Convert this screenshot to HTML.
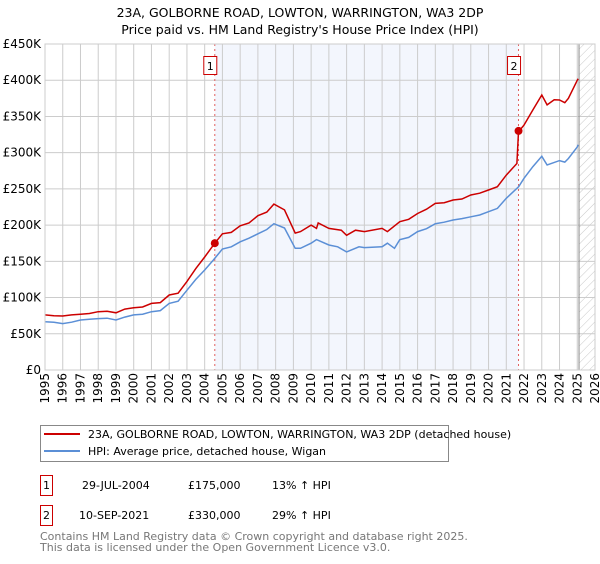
<!DOCTYPE html>
<html><head><meta charset="utf-8"><style>
body{margin:0;background:#fff;font-family:"DejaVu Sans","Liberation Sans",sans-serif;}
svg text{font-family:"DejaVu Sans","Liberation Sans",sans-serif;}
</style></head><body>
<svg id="c" width="600" height="560" xmlns="http://www.w3.org/2000/svg">
<defs><pattern id="hatch" width="6" height="6" patternUnits="userSpaceOnUse" patternTransform="rotate(45)"><line x1="0" y1="0" x2="0" y2="6" stroke="#bbb" stroke-width="0.8"/></pattern></defs>
<text x="300" y="17" text-anchor="middle" font-size="12.5">23A, GOLBORNE ROAD, LOWTON, WARRINGTON, WA3 2DP</text>
<text x="300" y="34" text-anchor="middle" font-size="12.5">Price paid vs. HM Land Registry's House Price Index (HPI)</text>
<g id="plot"></g>
<g>
<rect x="40.5" y="425.5" width="408" height="36" fill="#fff" stroke="#888"/>
<line x1="44" y1="434" x2="80" y2="434" stroke="#cc0000" stroke-width="2"/>
<text x="88" y="438" font-size="11">23A, GOLBORNE ROAD, LOWTON, WARRINGTON, WA3 2DP (detached house)</text>
<line x1="44" y1="451" x2="80" y2="451" stroke="#5b8fd6" stroke-width="2"/>
<text x="88" y="455" font-size="11">HPI: Average price, detached house, Wigan</text>
</g>
<g font-size="11">
<rect x="40.5" y="475.5" width="12" height="20" fill="#fff" stroke="#cc0000"/>
<text x="46.5" y="489" text-anchor="middle">1</text>
<text x="82" y="489">29-JUL-2004</text><text x="188" y="489">£175,000</text><text x="272" y="489">13% ↑ HPI</text>
<rect x="40.5" y="505.5" width="12" height="20" fill="#fff" stroke="#cc0000"/>
<text x="46.5" y="519" text-anchor="middle">2</text>
<text x="79" y="519">10-SEP-2021</text><text x="188" y="519">£330,000</text><text x="272" y="519">29% ↑ HPI</text>
</g>
<text x="40" y="540" font-size="11" fill="#777">Contains HM Land Registry data © Crown copyright and database right 2025.</text>
<text x="40" y="551" font-size="11" fill="#777">This data is licensed under the Open Government Licence v3.0.</text>
</svg>
<script>
const hpiYears=[1995,1995.5,1996,1996.5,1997,1997.5,1998,1998.5,1999,1999.5,2000,2000.5,2001,2001.5,2002,2002.5,2003,2003.5,2004,2004.5,2005,2005.5,2006,2006.5,2007,2007.5,2007.9,2008.5,2009.1,2009.4,2010,2010.3,2011,2011.5,2012,2012.7,2013,2014,2014.3,2014.7,2015,2015.5,2016,2016.5,2017,2017.5,2018,2018.5,2019,2019.5,2020,2020.5,2021,2021.7,2022,2022.5,2023,2023.3,2024,2024.3,2024.5,2025,2025.05];
const hpiValues=[66.7,66,64,66,69,70,71,71.5,69,73,76,77,80.5,82,92,95,110,125,138,152,167,170,177,182,188,194,202,196,168,168,175,180,172.5,170,163,170,169,170,175,168,180,183,191,195,202,204,207,209,211.5,214,218.5,223,237,253,264.6,280.7,295,283,289,287,292,308,311];
const ppYears=[1995,1995.5,1996,1996.5,1997,1997.5,1998,1998.5,1999,1999.5,2000,2000.5,2001,2001.5,2002,2002.5,2003,2003.5,2004,2004.57,2005,2005.5,2006,2006.5,2007,2007.5,2007.9,2008.5,2009.1,2009.4,2010,2010.3,2010.4,2011,2011.7,2012,2012.5,2013,2014,2014.3,2015,2015.5,2016,2016.5,2017,2017.5,2018,2018.5,2019,2019.5,2020,2020.5,2021,2021.6,2021.69,2022,2022.5,2023,2023.3,2023.7,2024,2024.3,2024.5,2025,2025.05];
const ppValues=[76,75,74.5,76,77,78,80.5,81,79,84,86,87,92,93,103.5,106,122,140,156,175,188,190,199,203,213,218,229,221,189,191,200,195.5,203,195.5,193,186,193,191,195.5,191,204.7,208,216,222,230,231,234.6,236,241.6,244,248.5,253,269,285,329,338,359,379.6,366,373,372.7,369,375,400,402];
const saleYears=[2004.57,2021.69];
const saleValues=[175,330];
const saleLabels=["1","2"];
const yTicks=[0,50,100,150,200,250,300,350,400,450];
const yTickLabels=["£0","£50K","£100K","£150K","£200K","£250K","£300K","£350K","£400K","£450K"];
const xTicks=[];for(let y=1995;y<=2026;y++)xTicks.push(y);

const L=45,R=595,T=44,B=370,ns="http://www.w3.org/2000/svg";
const X=y=>L+(y-1995)/(2026-1995)*(R-L);
const Y=v=>B-v/450*(B-T);
const g=document.getElementById('plot');
function mk(t,a){const e=document.createElementNS(ns,t);for(const k in a)e.setAttribute(k,a[k]);g.appendChild(e);return e;}
let e=mk('rect',{x:X(saleYears[0]),y:T,width:X(saleYears[1])-X(saleYears[0]),height:B-T,fill:'#eef2fc',opacity:0.7});


e=mk('rect',{x:X(2025.1),y:T,width:R-X(2025.1),height:B-T,fill:'url(#hatch)'});


yTicks.forEach((v,i)=>{
 let l=mk('line',{x1:L,x2:R,y1:Y(v),y2:Y(v),stroke:'#ccc','stroke-width':1});
 
 
 let t=mk('text',{x:L-4,y:Y(v)+4,'text-anchor':'end','font-size':12});
 t.textContent=yTickLabels[i];
 
 
});
xTicks.forEach(yr=>{
 let l=mk('line',{x1:X(yr),x2:X(yr),y1:T,y2:B,stroke:'#ccc','stroke-width':1});
 
 
 let t=mk('text',{x:0,y:0,'text-anchor':'end','font-size':12,transform:`translate(${X(yr)+4},${B+3}) rotate(-90)`});
 t.textContent=yr;
 
 
});
e=mk('line',{x1:X(2025.1),x2:X(2025.1),y1:T,y2:B,stroke:'#888','stroke-width':1});


saleYears.forEach((yr,i)=>{
 let l=mk('line',{x1:X(yr),x2:X(yr),y1:T,y2:B,stroke:'#e06060','stroke-width':1,'stroke-dasharray':'2,3'});
 
 
 let r=mk('rect',{x:X(yr)-7-(i?4:4),y:56.5,width:13,height:18,fill:'#fff',stroke:'#cc0000'});
 
 
 let t=mk('text',{x:X(yr)-4.5,y:70,'text-anchor':'middle','font-size':11});
 t.textContent=saleLabels[i];
 
 
});
const pts=(xs,vs)=>xs.map((x,i)=>X(x).toFixed(1)+','+Y(vs[i]).toFixed(1)).join(' ');
e=mk('polyline',{points:pts(hpiYears,hpiValues),fill:'none',stroke:'#5b8fd6','stroke-width':1.5});


e=mk('polyline',{points:pts(ppYears,ppValues),fill:'none',stroke:'#cc0000','stroke-width':1.5});


saleYears.forEach((yr,i)=>{
 let c=mk('circle',{cx:X(yr),cy:Y(saleValues[i]),r:4,fill:'#cc0000'});
 
 
});
e=mk('rect',{x:L,y:T,width:R-L,height:B-T,fill:'none',stroke:'#ccc'});


</script>
</body></html>
